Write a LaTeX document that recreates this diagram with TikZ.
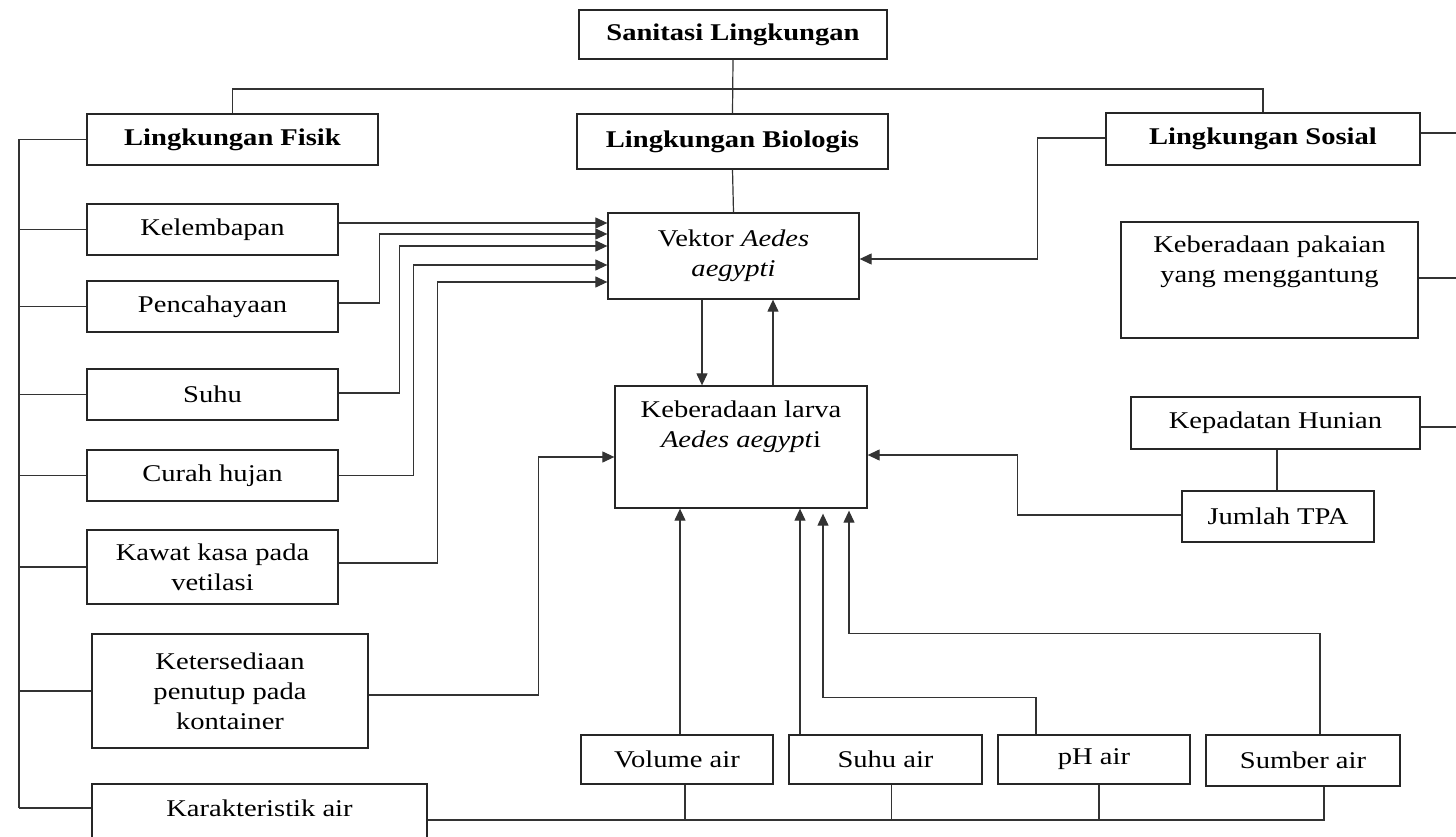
\documentclass[tikz,border=0pt]{standalone}
\usepackage{fontspec}
\setmainfont[FakeStretch=1.19]{Liberation Serif}
\usetikzlibrary{arrows.meta}
\newcommand{\fsz}{\fontsize{24}{30}\selectfont}
\begin{document}
\begin{tikzpicture}[x=1pt,y=-1pt,
 box/.style={draw=black!85, line width=1.3pt, rectangle, inner sep=0pt, align=center, font=\fsz},
 hbox/.style={box, font=\fsz\bfseries},
 txt/.style={inner sep=0pt, align=center, font=\fsz},
 ln/.style={draw=black!80, line width=1.2pt},
 arr/.style={ln, -{Triangle[length=12pt,width=11pt]}},
]
\useasboundingbox (0,0) rectangle (1456,837);
% nodes
\node[hbox, minimum width=308pt, minimum height=49pt] (san) at (733,34.5) {Sanitasi Lingkungan};
\node[hbox, minimum width=311pt, minimum height=55pt] (bio) at (732.5,141.5) {Lingkungan Biologis};
\node[hbox, minimum width=291pt, minimum height=51pt] (fis) at (232.5,139.5) {Lingkungan Fisik};
\node[hbox, minimum width=314pt, minimum height=52pt] (sos) at (1263,139) {Lingkungan Sosial};
\node[box, minimum width=251pt, minimum height=51pt] (kel) at (212.5,229.5) {Kelembapan};
\node[box, minimum width=251pt, minimum height=51pt] (pen) at (212.5,306.5) {Pencahayaan};
\node[box, minimum width=251pt, minimum height=51pt] (suh) at (212.5,394.5) {Suhu};
\node[box, minimum width=251pt, minimum height=51pt] (cur) at (212.5,475.5) {Curah hujan};
\node[box, minimum width=251pt, minimum height=74pt] (kaw) at (212.5,567) {Kawat kasa pada\\vetilasi};
\node[box, minimum width=276pt, minimum height=114pt] (ket) at (230,691) {Ketersediaan\\penutup pada\\kontainer};
\node[box, minimum width=335pt, minimum height=100pt] (kar) at (259.5,834) {};
\node[txt] (karT) at (259.5,808) {Karakteristik air};
\node[box, minimum width=251pt, minimum height=86pt] (vek) at (733.5,256) {Vektor \textit{Aedes}\\\textit{aegypti}};
\node[box, minimum width=252pt, minimum height=122pt] (lar) at (741,447) {};
\node[txt] (larT) at (741,426.5) {Keberadaan larva\\\textit{Aedes aegypt}i};
\node[box, minimum width=297pt, minimum height=116pt] (pak) at (1269.5,280) {};
\node[txt] (pakT) at (1269.5,262) {Keberadaan pakaian\\yang menggantung};
\node[box, minimum width=289pt, minimum height=52pt] (kep) at (1275.5,423) {Kepadatan Hunian};
\node[box, minimum width=192pt, minimum height=51pt] (jum) at (1278,516.5) {Jumlah TPA};
\node[box, minimum width=192pt, minimum height=49pt] (vol) at (677,759.5) {Volume air};
\node[box, minimum width=193pt, minimum height=49pt] (sua) at (885.5,759.5) {Suhu air};
\node[box, minimum width=192pt, minimum height=49pt] (pha) at (1094,759.5) {pH air};
\node[box, minimum width=194pt, minimum height=51pt] (sum) at (1303,760.5) {Sumber air};
% helper coordinates
\coordinate (hbar) at (0,89);
\coordinate (lbus) at (19,0);
\coordinate (redge) at (1456,0);
% top tree
\draw[ln] (san.south) -- (bio.north);
\draw[ln] (fis.north) -- (fis.north |- hbar) -- (sos.north |- hbar) -- (sos.north);
\draw[ln] (bio.south) -- (vek.north);
% left bus
\draw[ln] (fis.west -| lbus) -- ([yshift=26pt]kar.west -| lbus);
\foreach \n in {fis,kel,pen,suh,cur,kaw,ket} \draw[ln] (\n.west) -- (\n.west -| lbus);
\draw[ln] ([yshift=26pt]kar.west) -- ([yshift=26pt]kar.west -| lbus);
% arrows to vector
\draw[arr] ([yshift=6.5pt]kel.east) -- ([yshift=33pt]vek.west);
\draw[arr] ([yshift=3.5pt]pen.east) -- ++(41pt,0) |- ([yshift=22pt]vek.west);
\draw[arr] ([yshift=1.5pt]suh.east) -- ++(61pt,0) |- ([yshift=10pt]vek.west);
\draw[arr] (cur.east) -- ++(75pt,0) |- ([yshift=-9pt]vek.west);
\draw[arr] ([yshift=4pt]kaw.east) -- ++(99pt,0) |- ([yshift=-26pt]vek.west);
\draw[arr] ([yshift=-4pt]ket.east) -- ++(170pt,0) |- ([yshift=-10pt]lar.west);
\draw[arr] ([yshift=1pt]sos.west) -- ++(-68pt,0) |- ([yshift=-3pt]vek.east);
% vector <-> larva
\draw[arr] ([xshift=-31.5pt]vek.south) -- ([xshift=-31.5pt]vek.south |- lar.north);
\draw[arr] ([xshift=32pt]lar.north) -- ([xshift=32pt]lar.north |- vek.south);
% right side
\draw[arr] ([yshift=1.5pt]jum.west) -- ++(-164pt,0) |- ([yshift=-8pt]lar.east);
\draw[ln] ([xshift=1.5pt]kep.south) -- ([xshift=1.5pt]kep.south |- jum.north);
\draw[ln] ([yshift=6pt]sos.east) -- ([yshift=6pt]sos.east -| redge);
\draw[ln] ([yshift=2pt]pak.east) -- ([yshift=2pt]pak.east -| redge);
\draw[ln] ([yshift=-4pt]kep.east) -- ([yshift=-4pt]kep.east -| redge);
% bottom arrows
\draw[arr] ([xshift=3pt]vol.north) -- ([xshift=3pt]vol.north |- lar.south);
\draw[arr] ([xshift=-85.5pt]sua.north) -- ([xshift=-85.5pt]sua.north |- lar.south);
\draw[arr] ([xshift=-58pt]pha.north) -- ++(0,37pt) -| ([xshift=82pt,yshift=-5pt]lar.south);
\draw[arr] ([xshift=17pt]sum.north) -- ++(0,101pt) -| ([xshift=108pt,yshift=-2pt]lar.south);
% bottom bus
\coordinate (wbus) at ([yshift=14pt]kar.east);
\draw[ln] (wbus) -| ([xshift=21pt]sum.south);
\draw[ln] ([xshift=8pt]vol.south) -- ([xshift=8pt]vol.south |- wbus);
\draw[ln] ([xshift=6pt]sua.south) -- ([xshift=6pt]sua.south |- wbus);
\draw[ln] ([xshift=5pt]pha.south) -- ([xshift=5pt]pha.south |- wbus);
\end{tikzpicture}
\end{document}
